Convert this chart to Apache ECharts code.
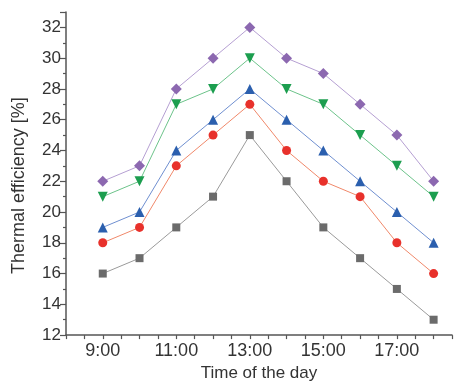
<!DOCTYPE html>
<html><head><meta charset="utf-8">
<script src="https://cdn.jsdelivr.net/npm/echarts@6/dist/echarts.min.js"></script>
<style>html,body{margin:0;padding:0;background:#fff}#c{width:461px;height:387px}</style>
</head><body><div id="c"></div>
<script>
var hours = [9, 10, 11, 12, 13, 14, 15, 16, 17, 18];
var xTickLabels = [9, 11, 13, 15, 17];
var seriesGray = [16, 17, 19, 21, 25, 22, 19, 17, 15, 13];
var seriesRed = [18, 19, 23, 25, 27, 24, 22, 21, 18, 16];
var seriesBlue = [19, 20, 24, 26, 28, 26, 24, 22, 20, 18];
var seriesGreen = [21, 22, 27, 28, 30, 28, 27, 25, 23, 21];
var seriesPurple = [22, 23, 28, 30, 32, 30, 29, 27, 25, 22];

function pts(arr) { return hours.map(function (h, i) { return [h, arr[i]]; }); }
function mk(data, sym, size, mcol, lcol, rot) {
  return {
    type: 'line', data: pts(data), symbol: sym, symbolSize: size, symbolRotate: rot || 0,
    itemStyle: { color: mcol }, lineStyle: { color: lcol, width: 1 }, animation: false
  };
}
var chart = echarts.init(document.getElementById('c'), null, { renderer: 'canvas' });
var font = 'Liberation Sans, Arial, sans-serif';
chart.setOption({
  animation: false,
  grid: { left: 66, right: 9, top: 12, bottom: 47, containLabel: false },
  xAxis: {
    type: 'value', min: 8, max: 18.5, interval: 0.5,
    name: 'Time of the day', nameLocation: 'middle', nameGap: 28,
    nameTextStyle: { fontFamily: font, fontSize: 17, color: '#333', verticalAlign: 'top' },
    axisLine: { lineStyle: { color: '#555', width: 1.5 } },
    axisTick: { show: true, inside: false, length: 4, lineStyle: { color: '#555', width: 1.2 } },
    splitLine: { show: false },
    axisLabel: {
      fontFamily: font, fontSize: 18, color: '#333', margin: 7, showMaxLabel: true, showMinLabel: true,
      formatter: function (v) { return xTickLabels.indexOf(v) >= 0 ? v + ':00' : ''; }
    }
  },
  yAxis: {
    type: 'value', min: 12, max: 33, interval: 2,
    name: 'Thermal efficiency [%]', nameLocation: 'middle', nameGap: 38,
    nameTextStyle: { fontFamily: font, fontSize: 18, color: '#333', padding: [0, 24, 0, 0] },
    axisLine: { show: true, lineStyle: { color: '#555', width: 1.5 } },
    axisTick: { show: true, inside: false, length: 6, lineStyle: { color: '#555', width: 1.2 } },
    minorTick: { show: true, splitNumber: 2, length: 3, lineStyle: { color: '#555', width: 1.2 } },
    splitLine: { show: false },
    axisLabel: {
      fontFamily: font, fontSize: 17, color: '#333', margin: 5,
      formatter: function (v) { return v === 33 ? '' : String(v); }
    }
  },
  series: [
    mk(seriesGray, 'rect', 8, '#6b6b6b', '#9a9a9a'),
    mk(seriesRed, 'circle', 9, '#e8312b', '#f0886a'),
    mk(seriesBlue, 'triangle', 10, '#2b5fae', '#6f8fd0'),
    mk(seriesGreen, 'triangle', 10, '#1c9e4f', '#6cc38a', 180),
    mk(seriesPurple, 'diamond', 11, '#8c68b0', '#b59fd2')
  ]
});
</script></body></html>
